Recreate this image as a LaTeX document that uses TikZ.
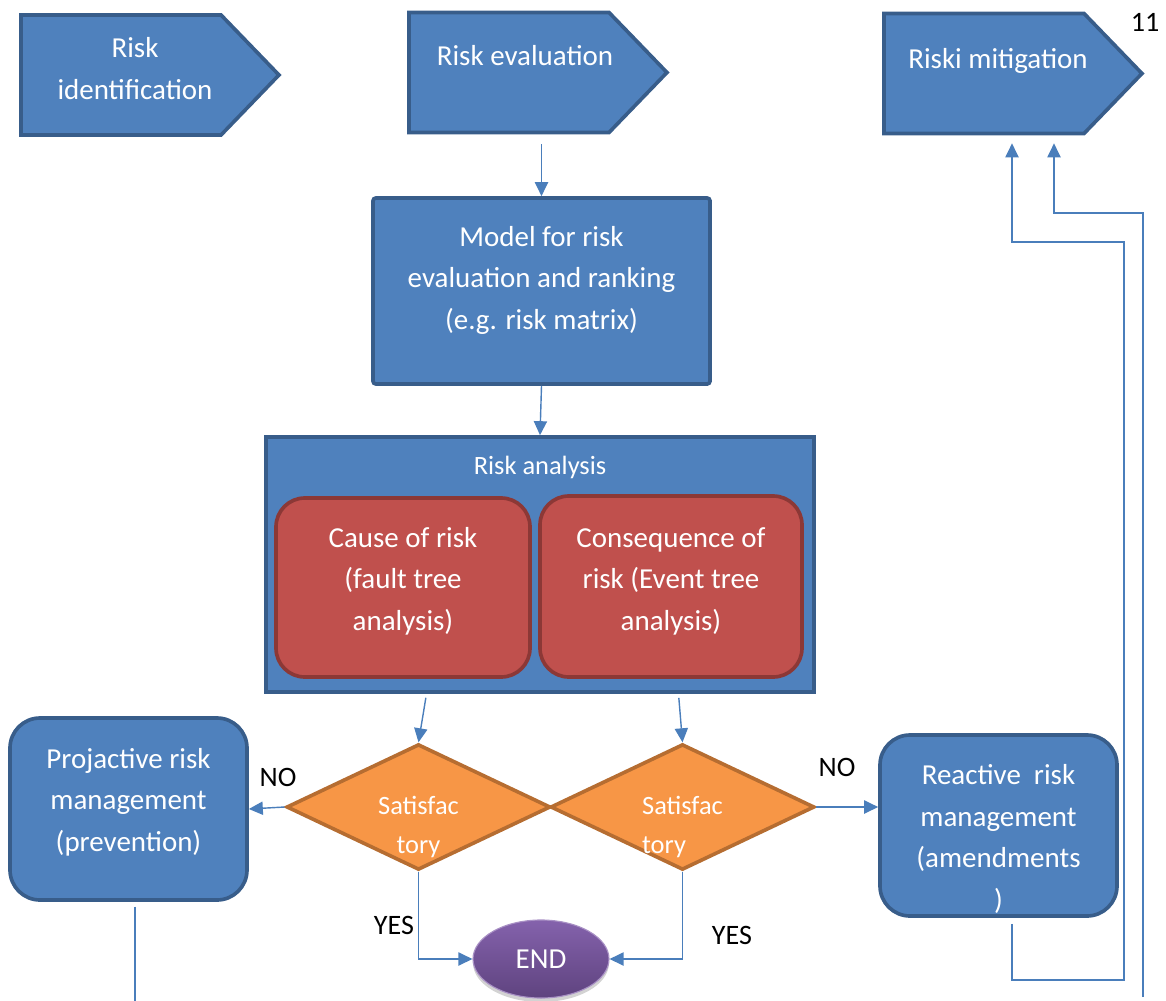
\documentclass[tikz,border=0pt]{standalone}
\usepackage{fontspec}
\setmainfont{Carlito}
\definecolor{BoxBlue}{HTML}{4F81BD}
\definecolor{EdgeBlue}{HTML}{385D8A}
\definecolor{LinkBlue}{HTML}{4A7EBB}
\definecolor{BoxRed}{HTML}{C0504D}
\definecolor{EdgeRed}{HTML}{8C3836}
\definecolor{BoxOrange}{HTML}{F79646}
\definecolor{EdgeOrange}{HTML}{B66D31}
\definecolor{EndTop}{HTML}{8462AC}
\definecolor{EndBottom}{HTML}{5F437F}
\usetikzlibrary{arrows.meta, calc, shapes.geometric, shapes.symbols, shadows}
\newcommand{\nudge}[3]{\hspace*{#1}\raisebox{#2}[\height][\depth]{#3}\hspace*{-#1}}
\tikzset{
  bluebox/.style={draw=EdgeBlue, line width=2.6pt, fill=BoxBlue, text=white, align=center, inner sep=0pt, font=\fontsize{20.6}{29.5}\selectfont},
  redbox/.style={draw=EdgeRed, line width=2.6pt, fill=BoxRed, text=white, align=center, rounded corners=0.72cm, inner sep=0pt, font=\fontsize{20.6}{29.5}\selectfont},
  tarrow/.style={-{Triangle[length=0.35cm, width=0.33cm]}, line width=1pt, draw=LinkBlue},
  tline/.style={line width=1pt, draw=LinkBlue}
}
\begin{document}
\begin{tikzpicture}[
  flag/.style={bluebox, signal, signal to=east, signal pointer angle=92, minimum width=6.45cm, minimum height=3cm},
  roundbox/.style={bluebox, rounded corners=0.75cm, minimum width=5.925cm},
  check/.style={diamond, draw=EdgeOrange, line width=2.6pt, fill=BoxOrange, text=white, inner sep=0pt, minimum width=6.6cm, minimum height=3.125cm, text height=1.125cm, text depth=0pt, font=\fontsize{18.8}{27.7}\selectfont},
  tag/.style={text=black, font=\fontsize{20}{22}\selectfont}
]
\useasboundingbox (0,0) rectangle (29.15,-25.025);

\node[flag, text height=1.2cm, text depth=0pt] (identification) at (3.025,-1.875) {\nudge{0.35cm}{0pt}{Risk}\\\nudge{0.35cm}{0pt}{identification}};
\node[flag, text height=0.5cm, text depth=0.84cm] (evaluation) at (12.725,-1.8125) {\nudge{0.4cm}{0pt}{Risk evaluation}};
\node[flag, text height=0.5cm, text depth=0.74cm] (mitigation) at (24.6,-1.8375) {\nudge{0.35cm}{0pt}{Riski mitigation}};
\node[font=\fontsize{20}{22}\selectfont] (page) at (28.625,-0.55) {11};

\node[bluebox, rounded corners=2pt, minimum width=8.425cm, minimum height=4.65cm, text height=1.9cm, text depth=0pt] (model) at (13.5375,-7.275) {Model for risk\\evaluation and ranking\\(e.g. risk matrix)};

\node[bluebox, minimum width=13.7cm, minimum height=6.375cm] (analysis) at (13.5,-14.1125) {};
\node[text=white, font=\fontsize{18.8}{22}\selectfont] (analysistitle) at (13.5,-11.675) {Risk analysis};
\node[redbox, minimum width=6.35cm, minimum height=4.475cm, text height=2.125cm, text depth=0pt] (cause) at (10.075,-14.6875) {Cause of risk\\(fault tree\\analysis)};
\node[redbox, minimum width=6.55cm, minimum height=4.525cm, text height=2.175cm, text depth=0pt] (consequence) at (16.775,-14.6625) {Consequence of\\risk (Event tree\\analysis)};

\node[check, align=center] (satisfied) at (10.4625,-20.175) {\nudge{0pt}{-0.6cm}{Satisfac}\\\nudge{0pt}{-0.6cm}{tory}};
\node[check, align=left] (satisfiedb) at (17.0625,-20.175) {\nudge{0pt}{-0.6cm}{Satisfac}\\\nudge{0pt}{-0.6cm}{tory}};

\node[roundbox, minimum height=4.55cm, text height=2.1cm, text depth=0pt] (projactive) at (3.2125,-20.225) {Projactive risk\\management\\(prevention)};
\node[roundbox, minimum height=4.525cm, text height=4.175cm, text depth=0pt] (reactive) at (24.9625,-20.6375) {Reactive\ \ risk\\management\\(amendments\\)};

\node[ellipse, draw=EndTop!70!white, line width=0.8pt, top color=EndTop, bottom color=EndBottom, text=white, minimum width=3.4cm, minimum height=1.95cm, drop shadow={opacity=0.35, shadow xshift=0pt, shadow yshift=-0.1cm}, font=\fontsize{20.6}{24}\selectfont] (finish) at (13.525,-23.975) {END};

\node[tag] (noleft) at (6.95,-19.425) {NO};
\node[tag] (noright) at (20.925,-19.175) {NO};
\node[tag] (yesleft) at (9.85,-23.125) {YES};
\node[tag] (yesright) at (18.3,-23.375) {YES};

\coordinate (projout) at (3.375,-25.025);
\coordinate (rfoot) at (25.3,-24.5);
\coordinate (rtop) at (28.1,-6.05);
\coordinate (bfoot) at (28.575,-24.925);
\coordinate (btop) at (26.35,-5.325);

\draw[tarrow, shorten <=0.25cm] (model.north |- evaluation.south) -- (model.north);
\draw[tarrow] (model.south) -- (analysis.north);
\draw[tarrow, shorten <=0.1cm] ($(analysis.south -| satisfied.north)+(0.2,0)$) -- (satisfied.north);
\draw[tarrow, shorten <=0.1cm] ($(analysis.south -| satisfiedb.north)+(-0.1,0)$) -- (satisfiedb.north);
\draw[tarrow] (satisfied.west) -- (projactive.east);
\draw[tarrow] (satisfiedb.east) -- (satisfiedb.east -| reactive.west);
\draw[tarrow] (satisfied.south) |- (finish.west);
\draw[tarrow] (satisfiedb.south) |- (finish.east);
\draw[tline, shorten <=0.12cm] (projactive.south -| projout) -- (projout);
\draw[tarrow, shorten <=0.15cm, shorten >=0.2cm] (reactive.south -| rfoot) -- (rfoot) -| (rtop) -| (mitigation.south -| rfoot);
\draw[tarrow, shorten >=0.2cm] (bfoot) |- (btop) -- (btop |- mitigation.south);
\end{tikzpicture}
\end{document}
